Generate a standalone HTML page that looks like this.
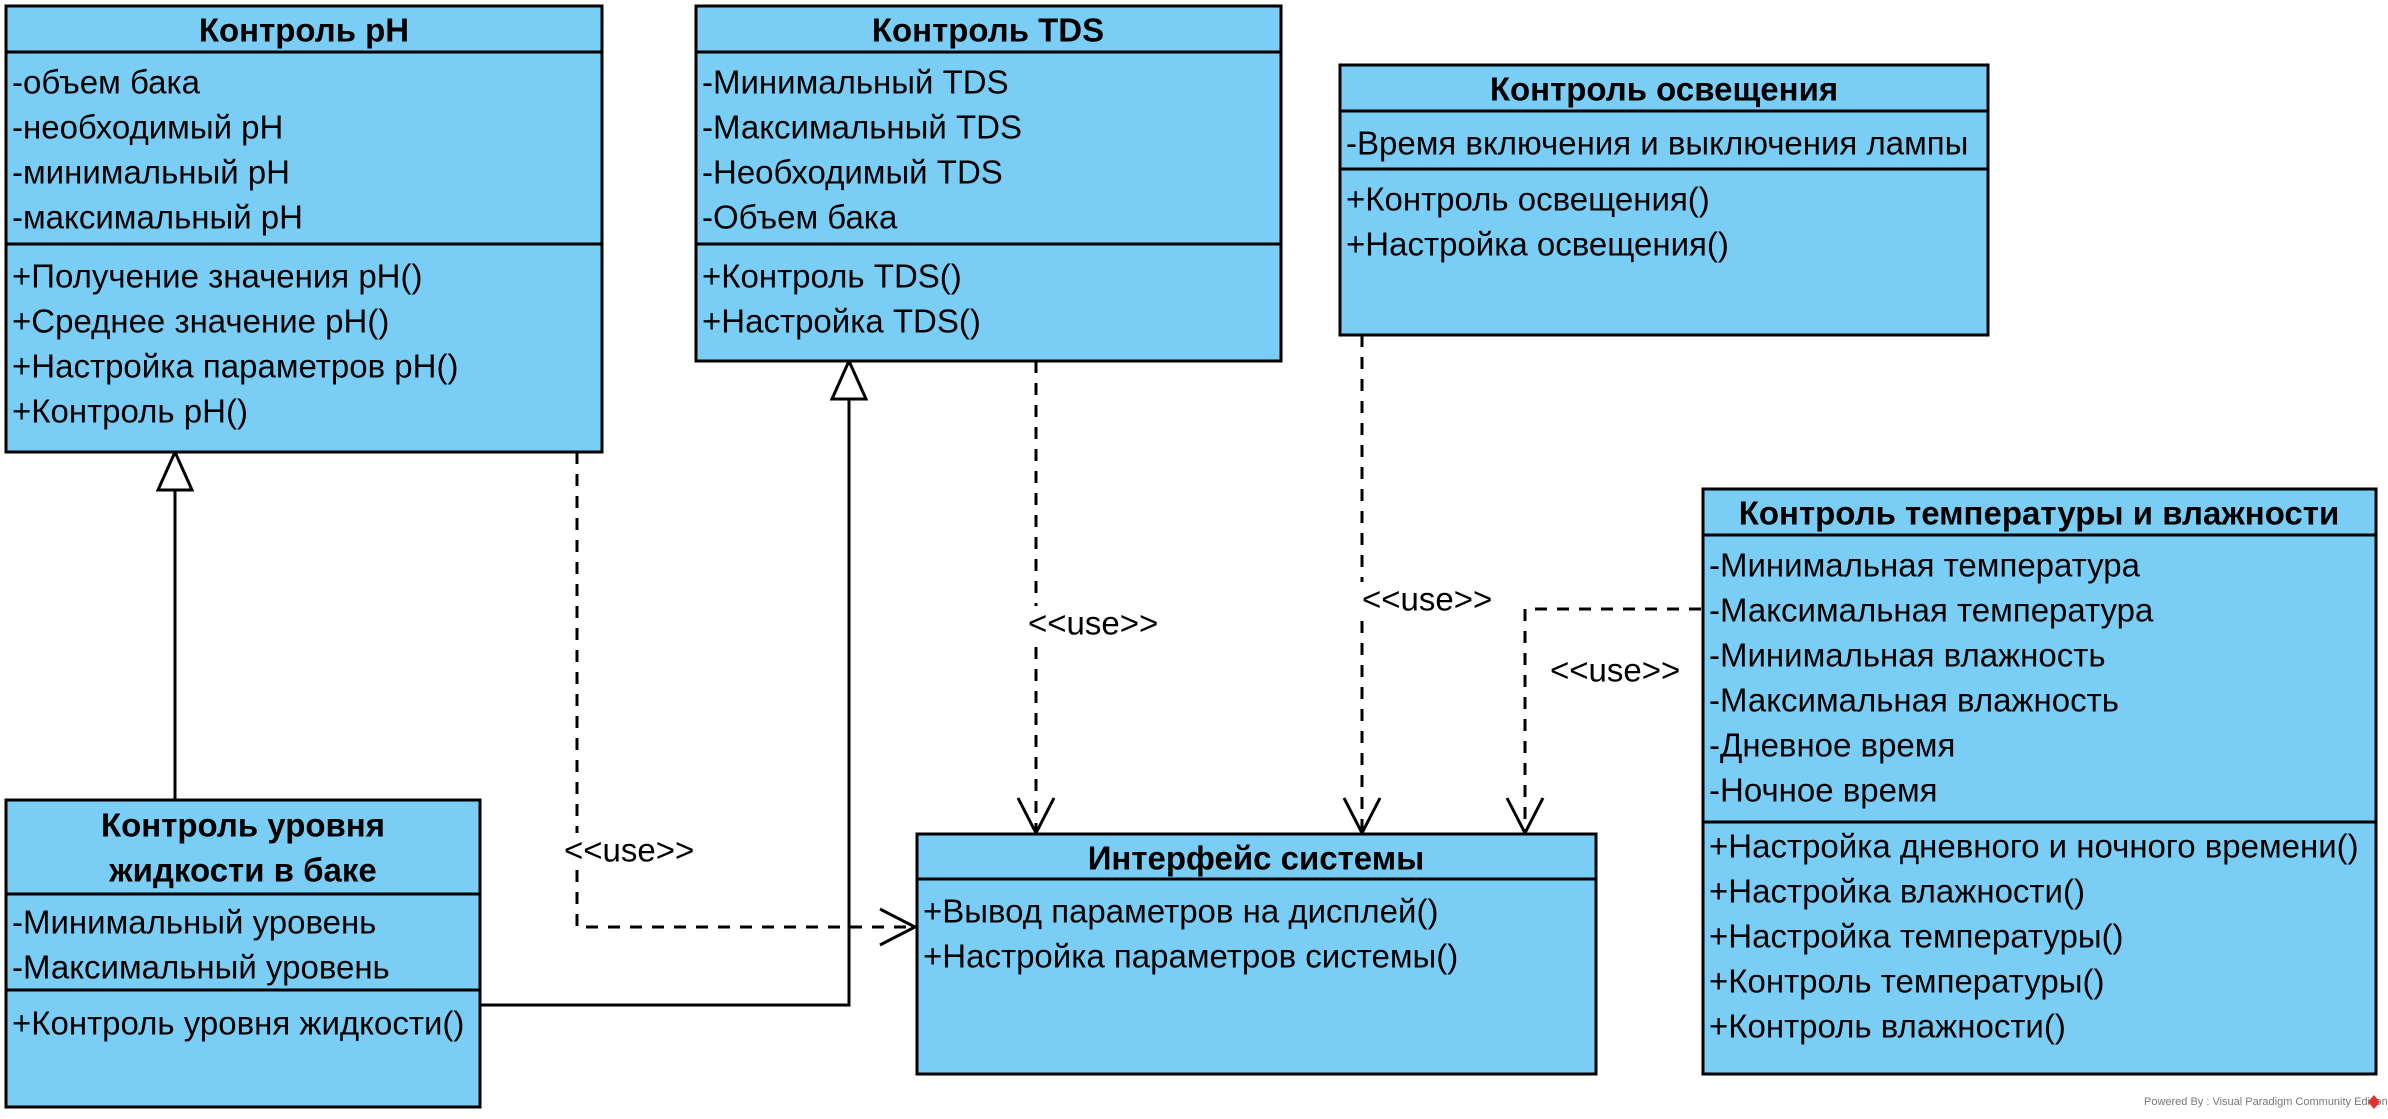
<!DOCTYPE html>
<html><head><meta charset="utf-8"><style>
html,body{margin:0;padding:0;background:#fff;}
svg{display:block;}
text{font-family:"Liberation Sans",Arial,sans-serif;font-size:33px;fill:#000;dominant-baseline:central;}
.h{font-weight:bold;text-anchor:middle;}
.box{fill:#7acdf4;stroke:#000;stroke-width:3;}
.ln{stroke:#000;stroke-width:3;fill:none;}
.d{stroke:#000;stroke-width:3;fill:none;stroke-dasharray:12 10;}
</style></head><body>
<svg width="2388" height="1119" viewBox="0 0 2388 1119" xmlns="http://www.w3.org/2000/svg">
<!-- connectors -->
<path class="ln" d="M175 800 V490"/>
<polygon points="175,452 158,490 192,490" fill="#fff" stroke="#000" stroke-width="3"/>
<path class="ln" d="M480 1005 H849 V399"/>
<polygon points="849,361 832,399 866,399" fill="#fff" stroke="#000" stroke-width="3"/>

<path class="d" d="M577 452 V927 H915"/>
<path class="ln" d="M880 909 L915 927 L880 945"/>
<rect x="565" y="833" width="20" height="34" fill="#fff"/>
<text x="564" y="850">&lt;&lt;use&gt;&gt;</text>

<path class="d" d="M1036 361 V833"/>
<path class="ln" d="M1018 798 L1036 833 L1054 798"/>
<rect x="1030" y="606" width="12" height="34" fill="#fff"/>
<text x="1028" y="623">&lt;&lt;use&gt;&gt;</text>

<path class="d" d="M1362 335 V833"/>
<path class="ln" d="M1344 798 L1362 833 L1380 798"/>
<rect x="1356" y="582" width="12" height="34" fill="#fff"/>
<text x="1362" y="599">&lt;&lt;use&gt;&gt;</text>

<path class="d" d="M1701 609 H1525 V833"/>
<path class="ln" d="M1507 798 L1525 833 L1543 798"/>
<text x="1550" y="670">&lt;&lt;use&gt;&gt;</text>

<!-- Контроль pH -->
<rect class="box" x="6" y="6" width="596" height="446"/>
<path class="ln" d="M6 52 H602 M6 244 H602"/>
<text class="h" x="304" y="30">Контроль pH</text>
<text x="12" y="82">-объем бака</text>
<text x="12" y="127">-необходимый pH</text>
<text x="12" y="172">-минимальный pH</text>
<text x="12" y="217">-максимальный pH</text>
<text x="12" y="276">+Получение значения pH()</text>
<text x="12" y="321">+Среднее значение pH()</text>
<text x="12" y="366">+Настройка параметров pH()</text>
<text x="12" y="411">+Контроль pH()</text>

<!-- Контроль TDS -->
<rect class="box" x="696" y="6" width="585" height="355"/>
<path class="ln" d="M696 52 H1281 M696 244 H1281"/>
<text class="h" x="988" y="30">Контроль TDS</text>
<text x="702" y="82">-Минимальный TDS</text>
<text x="702" y="127">-Максимальный TDS</text>
<text x="702" y="172">-Необходимый TDS</text>
<text x="702" y="217">-Объем бака</text>
<text x="702" y="276">+Контроль TDS()</text>
<text x="702" y="321">+Настройка TDS()</text>

<!-- Контроль освещения -->
<rect class="box" x="1340" y="65" width="648" height="270"/>
<path class="ln" d="M1340 111 H1988 M1340 169 H1988"/>
<text class="h" x="1664" y="89">Контроль освещения</text>
<text x="1346" y="143">-Время включения и выключения лампы</text>
<text x="1346" y="199">+Контроль освещения()</text>
<text x="1346" y="244">+Настройка освещения()</text>

<!-- Контроль температуры и влажности -->
<rect class="box" x="1703" y="489" width="673" height="585"/>
<path class="ln" d="M1703 535 H2376 M1703 822 H2376"/>
<text class="h" x="2039" y="513">Контроль температуры и влажности</text>
<text x="1709" y="565">-Минимальная температура</text>
<text x="1709" y="610">-Максимальная температура</text>
<text x="1709" y="655">-Минимальная влажность</text>
<text x="1709" y="700">-Максимальная влажность</text>
<text x="1709" y="745">-Дневное время</text>
<text x="1709" y="790">-Ночное время</text>
<text x="1709" y="846">+Настройка дневного и ночного времени()</text>
<text x="1709" y="891">+Настройка влажности()</text>
<text x="1709" y="936">+Настройка температуры()</text>
<text x="1709" y="981">+Контроль температуры()</text>
<text x="1709" y="1026">+Контроль влажности()</text>

<!-- Интерфейс системы -->
<rect class="box" x="917" y="834" width="679" height="240"/>
<path class="ln" d="M917 879 H1596"/>
<text class="h" x="1256" y="858">Интерфейс системы</text>
<text x="923" y="911">+Вывод параметров на дисплей()</text>
<text x="923" y="956">+Настройка параметров системы()</text>

<!-- Контроль уровня жидкости -->
<rect class="box" x="6" y="800" width="474" height="307"/>
<path class="ln" d="M6 894 H480 M6 990 H480"/>
<text class="h" x="243" y="825">Контроль уровня</text>
<text class="h" x="243" y="870">жидкости в баке</text>
<text x="12" y="922">-Минимальный уровень</text>
<text x="12" y="967">-Максимальный уровень</text>
<text x="12" y="1023">+Контроль уровня жидкости()</text>

<text x="2144" y="1102" style="font-size:11px;fill:#777">Powered By : Visual Paradigm Community Edition</text>
<polygon points="2374,1095 2380,1102 2374,1109 2368,1102" fill="#d33"/>
</svg>
</body></html>
